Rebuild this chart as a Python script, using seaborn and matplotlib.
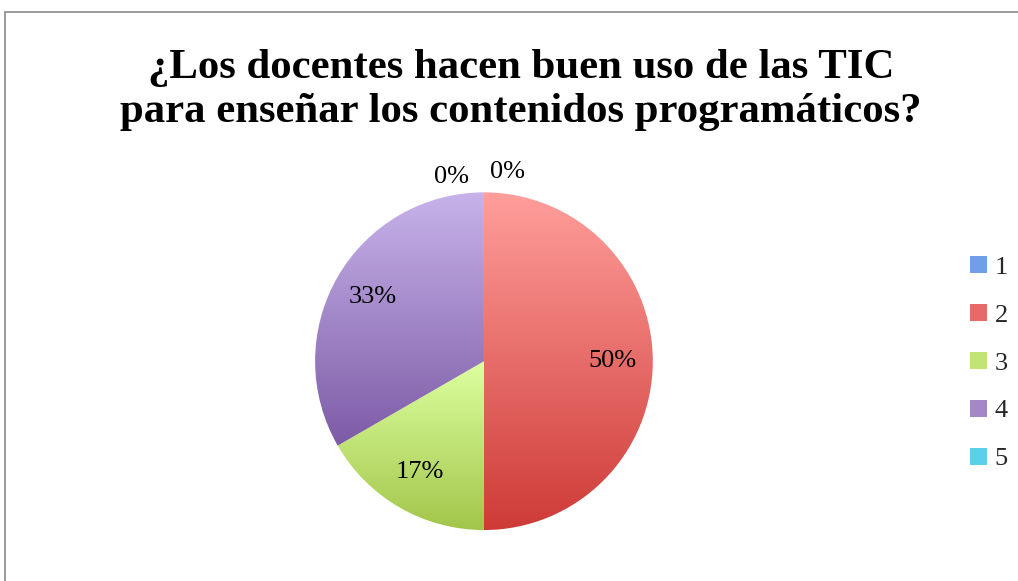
import numpy as np
import matplotlib
matplotlib.use("Agg")
import matplotlib.pyplot as plt
import seaborn as sns
from matplotlib.colors import LinearSegmentedColormap
from matplotlib.patches import Patch, Rectangle

# data
categories = ["1", "2", "3", "4", "5"]
counts = [0, 3, 1, 2, 0]
title = "¿Los docentes hacen buen uso de las TIC\npara enseñar los contenidos programáticos?"

# gradient colours (top, bottom) per slice
top_colors = ["#9DC3FF", "#FF9E9B", "#DDFFA0", "#C7B3EA", "#8CECFF"]
bottom_colors = ["#4A7EC8", "#CE3B37", "#A2C64A", "#7D5BA6", "#2FB3D0"]
mid_colors = ["#6F9FE6", "#E86A66", "#C2E476", "#A487C9", "#5BD0EA"]

sns.set_theme(style="white")
plt.rcParams["font.family"] = ["Liberation Serif", "DejaVu Serif"]

fig = plt.figure(figsize=(10.18, 5.81), dpi=100)
ax = fig.add_axes([0.2596, 0.0005, 0.4316, 0.7556])

wedges, _ = ax.pie(counts, startangle=90, counterclock=False,
                   colors=mid_colors, radius=1.0)

total = sum(counts)
grad = np.linspace(0, 1, 256).reshape(-1, 1)
for i, w in enumerate(wedges):
    if counts[i] == 0:
        w.set_visible(False)
        continue
    # vertical gradient fill clipped to the wedge
    cmap = LinearSegmentedColormap.from_list(f"g{i}", [top_colors[i], bottom_colors[i]])
    path = w.get_path().transformed(w.get_patch_transform())
    x0, y0 = path.vertices.min(axis=0)
    x1, y1 = path.vertices.max(axis=0)
    im = ax.imshow(grad, cmap=cmap, extent=[x0, x1, y0, y1], aspect="auto",
                   origin="upper", zorder=w.get_zorder() + 0.1)
    im.set_clip_path(w)
    w.set_facecolor("none")
    w.set_edgecolor("none")

# percentage labels
for i, w in enumerate(wedges):
    pct = counts[i] / total * 100
    mid = np.deg2rad((w.theta1 + w.theta2) / 2)
    if counts[i] == 0:
        # zero slices sit at the top; push label outside, offset sideways
        if i == len(counts) - 1:
            ang, r = mid + np.deg2rad(10), 1.11
        else:
            ang, r = mid - np.deg2rad(7), 1.13
    else:
        ang, r = mid, 0.76
    ax.text(r * np.cos(ang), r * np.sin(ang), f"{pct:.0f}%",
            ha="center", va="center", fontsize=19, color="black")

ax.set_xlim(-1.3, 1.3)
ax.set_ylim(-1.3, 1.3)
ax.set_aspect("equal")
ax.axis("off")

fig.text(0.512, 0.845, title, ha="center", va="center", fontsize=30.8,
         fontweight="bold", linespacing=1.2, color="black")

handles = [Patch(facecolor=c, edgecolor="none") for c in mid_colors]
fig.legend(handles, categories, loc="center left", bbox_to_anchor=(0.93, 0.375),
           frameon=False, fontsize=19, handlelength=0.62, handleheight=0.62,
           labelspacing=0.95, handletextpad=0.3)

# chart area frame
fig.add_artist(Rectangle((5 / 1018, -0.1), 1.1, 1 - 12 / 581 + 0.1,
                         transform=fig.transFigure, fill=False,
                         edgecolor="#8A8A8A", lw=1.2))

fig.savefig("out.png", dpi=100)
